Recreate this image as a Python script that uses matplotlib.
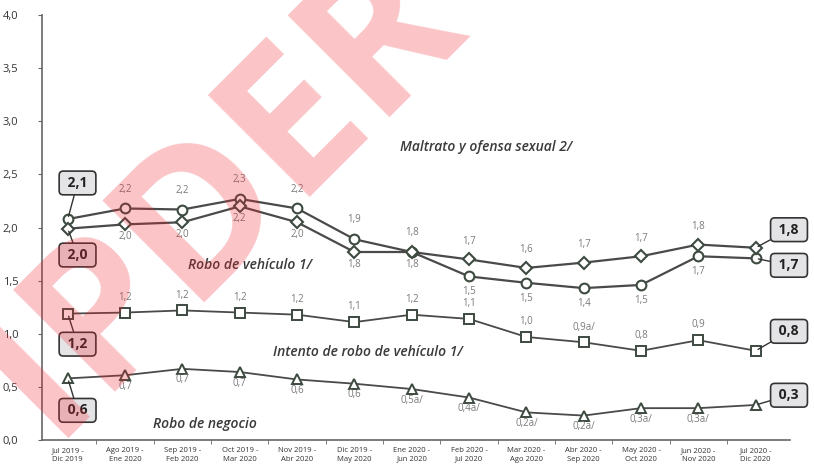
import numpy as np
import matplotlib.pyplot as plt

plt.rcParams['font.family'] = ['Open Sans', 'DejaVu Sans']

periods = ['Jul 2019 -\nDic 2019', 'Ago 2019 -\nEne 2020', 'Sep 2019 -\nFeb 2020',
           'Oct 2019 -\nMar 2020', 'Nov 2019 -\nAbr 2020', 'Dic 2019 -\nMay 2020',
           'Ene 2020 -\nJun 2020', 'Feb 2020 -\nJul 2020', 'Mar 2020 -\nAgo 2020',
           'Abr 2020 -\nSep 2020', 'May 2020 -\nOct 2020', 'Jun 2020 -\nNov 2020',
           'Jul 2020 -\nDic 2020']

# circles
circ_vals = [2.08, 2.18, 2.17, 2.27, 2.18, 1.89, 1.77, 1.54, 1.48, 1.43, 1.46, 1.73, 1.71]
circ_lbls = ['2,1', '2,2', '2,2', '2,3', '2,2', '1,9', '1,8', '1,5', '1,5', '1,4', '1,5', '1,7', '1,7']
# diamonds
diam_vals = [1.99, 2.03, 2.05, 2.20, 2.05, 1.77, 1.77, 1.70, 1.62, 1.67, 1.73, 1.84, 1.81]
diam_lbls = ['2,0', '2,0', '2,0', '2,2', '2,0', '1,8', '1,8', '1,7', '1,6', '1,7', '1,7', '1,8', '1,8']
# squares: intento de robo de vehiculo
sq_vals = [1.19, 1.20, 1.22, 1.20, 1.18, 1.11, 1.18, 1.14, 0.97, 0.92, 0.84, 0.94, 0.84]
sq_lbls = ['1,2', '1,2', '1,2', '1,2', '1,2', '1,1', '1,2', '1,1', '1,0', '0,9a/', '0,8', '0,9', '0,8']
# triangles: robo de negocio
tri_vals = [0.58, 0.61, 0.67, 0.64, 0.57, 0.53, 0.48, 0.40, 0.26, 0.23, 0.30, 0.30, 0.33]
tri_lbls = ['0,6', '0,7', '0,7', '0,7', '0,6', '0,6', '0,5a/', '0,4a/', '0,2a/', '0,2a/', '0,3a/', '0,3a/', '0,3']

yticks = [0.0, 0.5, 1.0, 1.5, 2.0, 2.5, 3.0, 3.5, 4.0]

line_c = '#4a4a4a'
lab_c = '#7a7a7a'

fig = plt.figure(figsize=(8.14, 4.70), dpi=100)
ax = fig.add_axes([0.0516, 0.0638, 0.919, 0.904])

x = np.arange(len(periods))
ax.plot(x, circ_vals, color=line_c, lw=1.6, marker='o', ms=7, mfc='white', mec='#3d4a40', mew=1.5, zorder=3)
ax.plot(x, diam_vals, color=line_c, lw=1.6, marker='D', ms=6.5, mfc='white', mec='#3d4a40', mew=1.5, zorder=3)
ax.plot(x, sq_vals, color=line_c, lw=1.3, marker='s', ms=6.5, mfc='white', mec='#3d4a40', mew=1.4, zorder=3)
ax.plot(x, tri_vals, color=line_c, lw=1.3, marker='^', ms=6.5, mfc='white', mec='#3d4a40', mew=1.4, zorder=3)

def labels(vals, lbls, dy_fn):
    for i in range(1, len(vals) - 1):
        dy = dy_fn(i)
        ax.annotate(lbls[i], (x[i], vals[i]), xytext=(0, dy), textcoords='offset points',
                    ha='center', va='bottom' if dy > 0 else 'top', fontsize=7, color=lab_c)

labels(circ_vals, circ_lbls, lambda i: 10 if i <= 6 else -7)
labels(diam_vals, diam_lbls, lambda i: -5 if i <= 6 else 9)
labels(sq_vals, sq_lbls, lambda i: 7)
labels(tri_vals, tri_lbls, lambda i: -4)

box = dict(boxstyle='round,pad=0.35,rounding_size=0.3', fc='#e4e4e6', ec='#333333', lw=1.2)
arr = dict(arrowstyle='-', color='#333333', lw=1.0, shrinkA=0, shrinkB=2)

def callout(vals, lbls, i, off):
    ax.annotate(' ' + lbls[i] + ' ', (x[i], vals[i]), xytext=off, textcoords='offset points',
                ha='center', va='center', fontsize=10, fontweight='bold', color='#222222',
                bbox=box, arrowprops=arr, zorder=5, annotation_clip=False)

callout(circ_vals, circ_lbls, 0, (7, 26))
callout(diam_vals, diam_lbls, 0, (7, -19))
callout(sq_vals, sq_lbls, 0, (7, -22))
callout(tri_vals, tri_lbls, 0, (7, -23))
callout(diam_vals, diam_lbls, 12, (24, 13))
callout(circ_vals, circ_lbls, 12, (24, -5))
callout(sq_vals, sq_lbls, 12, (24, 14))
callout(tri_vals, tri_lbls, 12, (24, 7))

# series names
name_style = dict(fontsize=10, style='italic', fontweight='semibold', color='#3a3a3a', ha='center', va='center')
ax.text(7.3, 2.76, 'Maltrato y ofensa sexual 2/', **name_style)
ax.text(3.17, 1.65, 'Robo de vehículo 1/', **name_style)
ax.text(5.23, 0.83, 'Intento de robo de vehículo 1/', **name_style)
ax.text(2.4, 0.15, 'Robo de negocio', **name_style)

ax.set_xlim(-0.45, 12.6)
ax.set_ylim(0, 4.0)
ax.set_yticks(yticks)
ax.set_yticklabels([f'{v:.1f}'.replace('.', ',') for v in yticks], fontsize=8, color='#333333')
ax.set_xticks(x)
ax.set_xticklabels(periods, fontsize=5.5, color='#333333', linespacing=1.35)
ax.set_xticks(x[:-1] + 0.5, minor=True)
ax.tick_params(axis='x', which='major', length=0, pad=5)
ax.tick_params(axis='x', which='minor', length=3, color='#666666')
ax.tick_params(axis='y', length=3, color='#666666', pad=14)
for s in ['top', 'right']:
    ax.spines[s].set_visible(False)
for s in ['left', 'bottom']:
    ax.spines[s].set_color('#666666')
    ax.spines[s].set_linewidth(1.2)

# watermark
fig.text(0.272, 0.59, 'IPDER', rotation=45, ha='center', va='center', rotation_mode='anchor',
         fontsize=145, fontweight='bold', color='#f02832', alpha=0.27, zorder=10)

fig.savefig('out.png', dpi=100)
